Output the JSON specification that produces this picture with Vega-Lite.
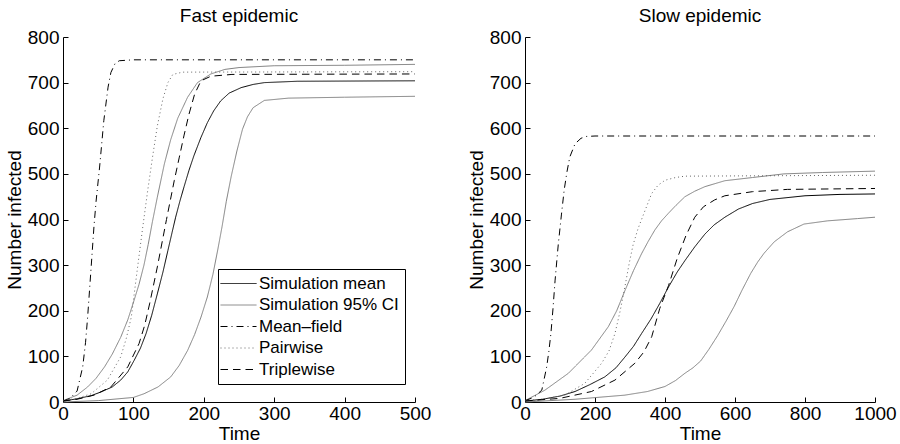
{
  "$schema": "https://vega.github.io/schema/vega-lite/v6.json",
  "background": "white",
  "padding": {"left": 5, "top": 7, "right": 5, "bottom": 0},
  "config": {
    "font": "Liberation Sans",
    "view": {"stroke": null},
    "axis": {
      "domainColor": "black", "tickColor": "black", "labelColor": "black", "titleColor": "black",
      "labelFont": "Liberation Sans", "titleFont": "Liberation Sans",
      "labelFontSize": 19, "titleFontSize": 19, "titleFontWeight": "normal",
      "grid": false, "tickSize": -5, "labelFlush": false, "labelOverlap": false,
      "domainWidth": 1, "tickWidth": 1, "format": "d"
    },
    "axisX": {"labelPadding": 7, "titlePadding": 1},
    "axisY": {"labelPadding": 9, "titlePadding": 3},
    "title": {"fontSize": 19, "fontWeight": "normal", "font": "Liberation Sans", "color": "black", "offset": 2},
    "concat": {"spacing": 36}
  },
  "datasets": {
    "fast": [
      {"t":0,"v":2,"s":"Simulation mean","c":"m"},{"t":20,"v":7,"s":"Simulation mean","c":"m"},{"t":40,"v":14,"s":"Simulation mean","c":"m"},{"t":54,"v":22,"s":"Simulation mean","c":"m"},{"t":70,"v":33,"s":"Simulation mean","c":"m"},{"t":82,"v":48,"s":"Simulation mean","c":"m"},{"t":92,"v":66,"s":"Simulation mean","c":"m"},{"t":101,"v":91,"s":"Simulation mean","c":"m"},{"t":110,"v":118,"s":"Simulation mean","c":"m"},{"t":118,"v":150,"s":"Simulation mean","c":"m"},{"t":126,"v":190,"s":"Simulation mean","c":"m"},{"t":134,"v":237,"s":"Simulation mean","c":"m"},{"t":142,"v":285,"s":"Simulation mean","c":"m"},{"t":149,"v":332,"s":"Simulation mean","c":"m"},{"t":155,"v":372,"s":"Simulation mean","c":"m"},{"t":160,"v":405,"s":"Simulation mean","c":"m"},{"t":166,"v":440,"s":"Simulation mean","c":"m"},{"t":172,"v":472,"s":"Simulation mean","c":"m"},{"t":179,"v":508,"s":"Simulation mean","c":"m"},{"t":186,"v":540,"s":"Simulation mean","c":"m"},{"t":196,"v":580,"s":"Simulation mean","c":"m"},{"t":205,"v":612,"s":"Simulation mean","c":"m"},{"t":214,"v":638,"s":"Simulation mean","c":"m"},{"t":224,"v":660,"s":"Simulation mean","c":"m"},{"t":236,"v":677,"s":"Simulation mean","c":"m"},{"t":253,"v":689,"s":"Simulation mean","c":"m"},{"t":270,"v":696,"s":"Simulation mean","c":"m"},{"t":286,"v":700,"s":"Simulation mean","c":"m"},{"t":333,"v":703,"s":"Simulation mean","c":"m"},{"t":500,"v":704,"s":"Simulation mean","c":"m"},
      {"t":0,"v":3,"s":"Simulation 95% CI","c":"u"},{"t":20,"v":15,"s":"Simulation 95% CI","c":"u"},{"t":35,"v":33,"s":"Simulation 95% CI","c":"u"},{"t":47,"v":52,"s":"Simulation 95% CI","c":"u"},{"t":59,"v":77,"s":"Simulation 95% CI","c":"u"},{"t":70,"v":105,"s":"Simulation 95% CI","c":"u"},{"t":82,"v":142,"s":"Simulation 95% CI","c":"u"},{"t":92,"v":180,"s":"Simulation 95% CI","c":"u"},{"t":101,"v":223,"s":"Simulation 95% CI","c":"u"},{"t":108,"v":258,"s":"Simulation 95% CI","c":"u"},{"t":115,"v":300,"s":"Simulation 95% CI","c":"u"},{"t":121,"v":345,"s":"Simulation 95% CI","c":"u"},{"t":127,"v":395,"s":"Simulation 95% CI","c":"u"},{"t":134,"v":449,"s":"Simulation 95% CI","c":"u"},{"t":144,"v":522,"s":"Simulation 95% CI","c":"u"},{"t":153,"v":575,"s":"Simulation 95% CI","c":"u"},{"t":163,"v":622,"s":"Simulation 95% CI","c":"u"},{"t":177,"v":668,"s":"Simulation 95% CI","c":"u"},{"t":191,"v":700,"s":"Simulation 95% CI","c":"u"},{"t":210,"v":719,"s":"Simulation 95% CI","c":"u"},{"t":230,"v":729,"s":"Simulation 95% CI","c":"u"},{"t":250,"v":733,"s":"Simulation 95% CI","c":"u"},{"t":300,"v":737,"s":"Simulation 95% CI","c":"u"},{"t":400,"v":738,"s":"Simulation 95% CI","c":"u"},{"t":500,"v":740,"s":"Simulation 95% CI","c":"u"},
      {"t":0,"v":0,"s":"Simulation 95% CI","c":"l"},{"t":50,"v":3,"s":"Simulation 95% CI","c":"l"},{"t":100,"v":10,"s":"Simulation 95% CI","c":"l"},{"t":115,"v":18,"s":"Simulation 95% CI","c":"l"},{"t":135,"v":33,"s":"Simulation 95% CI","c":"l"},{"t":153,"v":55,"s":"Simulation 95% CI","c":"l"},{"t":165,"v":80,"s":"Simulation 95% CI","c":"l"},{"t":177,"v":113,"s":"Simulation 95% CI","c":"l"},{"t":187,"v":148,"s":"Simulation 95% CI","c":"l"},{"t":196,"v":186,"s":"Simulation 95% CI","c":"l"},{"t":205,"v":230,"s":"Simulation 95% CI","c":"l"},{"t":213,"v":280,"s":"Simulation 95% CI","c":"l"},{"t":220,"v":335,"s":"Simulation 95% CI","c":"l"},{"t":226,"v":385,"s":"Simulation 95% CI","c":"l"},{"t":232,"v":440,"s":"Simulation 95% CI","c":"l"},{"t":239,"v":495,"s":"Simulation 95% CI","c":"l"},{"t":247,"v":550,"s":"Simulation 95% CI","c":"l"},{"t":255,"v":598,"s":"Simulation 95% CI","c":"l"},{"t":262,"v":625,"s":"Simulation 95% CI","c":"l"},{"t":270,"v":645,"s":"Simulation 95% CI","c":"l"},{"t":286,"v":661,"s":"Simulation 95% CI","c":"l"},{"t":320,"v":666,"s":"Simulation 95% CI","c":"l"},{"t":400,"v":668,"s":"Simulation 95% CI","c":"l"},{"t":500,"v":670,"s":"Simulation 95% CI","c":"l"},
      {"t":0,"v":2,"s":"Mean\u2013field","c":"mf"},{"t":10,"v":8,"s":"Mean\u2013field","c":"mf"},{"t":20,"v":24,"s":"Mean\u2013field","c":"mf"},{"t":28,"v":77,"s":"Mean\u2013field","c":"mf"},{"t":32,"v":130,"s":"Mean\u2013field","c":"mf"},{"t":35,"v":186,"s":"Mean\u2013field","c":"mf"},{"t":40,"v":296,"s":"Mean\u2013field","c":"mf"},{"t":44,"v":385,"s":"Mean\u2013field","c":"mf"},{"t":47,"v":440,"s":"Mean\u2013field","c":"mf"},{"t":52,"v":515,"s":"Mean\u2013field","c":"mf"},{"t":58,"v":617,"s":"Mean\u2013field","c":"mf"},{"t":64,"v":690,"s":"Mean\u2013field","c":"mf"},{"t":68,"v":722,"s":"Mean\u2013field","c":"mf"},{"t":74,"v":742,"s":"Mean\u2013field","c":"mf"},{"t":80,"v":748,"s":"Mean\u2013field","c":"mf"},{"t":100,"v":750,"s":"Mean\u2013field","c":"mf"},{"t":500,"v":750,"s":"Mean\u2013field","c":"mf"},
      {"t":0,"v":3,"s":"Pairwise","c":"p"},{"t":20,"v":8,"s":"Pairwise","c":"p"},{"t":40,"v":18,"s":"Pairwise","c":"p"},{"t":63,"v":48,"s":"Pairwise","c":"p"},{"t":82,"v":99,"s":"Pairwise","c":"p"},{"t":90,"v":140,"s":"Pairwise","c":"p"},{"t":97,"v":186,"s":"Pairwise","c":"p"},{"t":106,"v":296,"s":"Pairwise","c":"p"},{"t":113,"v":380,"s":"Pairwise","c":"p"},{"t":120,"v":460,"s":"Pairwise","c":"p"},{"t":127,"v":535,"s":"Pairwise","c":"p"},{"t":134,"v":605,"s":"Pairwise","c":"p"},{"t":142,"v":665,"s":"Pairwise","c":"p"},{"t":149,"v":700,"s":"Pairwise","c":"p"},{"t":156,"v":718,"s":"Pairwise","c":"p"},{"t":170,"v":723,"s":"Pairwise","c":"p"},{"t":500,"v":724,"s":"Pairwise","c":"p"},
      {"t":0,"v":2,"s":"Triplewise","c":"tw"},{"t":20,"v":6,"s":"Triplewise","c":"tw"},{"t":44,"v":15,"s":"Triplewise","c":"tw"},{"t":68,"v":33,"s":"Triplewise","c":"tw"},{"t":92,"v":77,"s":"Triplewise","c":"tw"},{"t":108,"v":128,"s":"Triplewise","c":"tw"},{"t":116,"v":168,"s":"Triplewise","c":"tw"},{"t":123,"v":215,"s":"Triplewise","c":"tw"},{"t":134,"v":296,"s":"Triplewise","c":"tw"},{"t":147,"v":400,"s":"Triplewise","c":"tw"},{"t":158,"v":485,"s":"Triplewise","c":"tw"},{"t":165,"v":535,"s":"Triplewise","c":"tw"},{"t":172,"v":585,"s":"Triplewise","c":"tw"},{"t":179,"v":631,"s":"Triplewise","c":"tw"},{"t":187,"v":675,"s":"Triplewise","c":"tw"},{"t":196,"v":704,"s":"Triplewise","c":"tw"},{"t":210,"v":714,"s":"Triplewise","c":"tw"},{"t":240,"v":718,"s":"Triplewise","c":"tw"},{"t":500,"v":719,"s":"Triplewise","c":"tw"}
    ],
    "slow": [
      {"t":0,"v":2,"s":"Simulation mean","c":"m"},{"t":50,"v":6,"s":"Simulation mean","c":"m"},{"t":100,"v":13,"s":"Simulation mean","c":"m"},{"t":143,"v":23,"s":"Simulation mean","c":"m"},{"t":185,"v":38,"s":"Simulation mean","c":"m"},{"t":228,"v":55,"s":"Simulation mean","c":"m"},{"t":260,"v":75,"s":"Simulation mean","c":"m"},{"t":286,"v":99,"s":"Simulation mean","c":"m"},{"t":310,"v":122,"s":"Simulation mean","c":"m"},{"t":333,"v":150,"s":"Simulation mean","c":"m"},{"t":360,"v":182,"s":"Simulation mean","c":"m"},{"t":385,"v":216,"s":"Simulation mean","c":"m"},{"t":410,"v":252,"s":"Simulation mean","c":"m"},{"t":435,"v":285,"s":"Simulation mean","c":"m"},{"t":457,"v":310,"s":"Simulation mean","c":"m"},{"t":485,"v":340,"s":"Simulation mean","c":"m"},{"t":514,"v":368,"s":"Simulation mean","c":"m"},{"t":540,"v":388,"s":"Simulation mean","c":"m"},{"t":571,"v":405,"s":"Simulation mean","c":"m"},{"t":610,"v":423,"s":"Simulation mean","c":"m"},{"t":650,"v":435,"s":"Simulation mean","c":"m"},{"t":700,"v":444,"s":"Simulation mean","c":"m"},{"t":800,"v":452,"s":"Simulation mean","c":"m"},{"t":900,"v":455,"s":"Simulation mean","c":"m"},{"t":1000,"v":456,"s":"Simulation mean","c":"m"},
      {"t":0,"v":3,"s":"Simulation 95% CI","c":"u"},{"t":57,"v":26,"s":"Simulation 95% CI","c":"u"},{"t":124,"v":63,"s":"Simulation 95% CI","c":"u"},{"t":190,"v":114,"s":"Simulation 95% CI","c":"u"},{"t":238,"v":165,"s":"Simulation 95% CI","c":"u"},{"t":262,"v":200,"s":"Simulation 95% CI","c":"u"},{"t":286,"v":245,"s":"Simulation 95% CI","c":"u"},{"t":310,"v":288,"s":"Simulation 95% CI","c":"u"},{"t":333,"v":325,"s":"Simulation 95% CI","c":"u"},{"t":352,"v":352,"s":"Simulation 95% CI","c":"u"},{"t":371,"v":377,"s":"Simulation 95% CI","c":"u"},{"t":390,"v":397,"s":"Simulation 95% CI","c":"u"},{"t":409,"v":413,"s":"Simulation 95% CI","c":"u"},{"t":430,"v":430,"s":"Simulation 95% CI","c":"u"},{"t":457,"v":450,"s":"Simulation 95% CI","c":"u"},{"t":485,"v":462,"s":"Simulation 95% CI","c":"u"},{"t":514,"v":472,"s":"Simulation 95% CI","c":"u"},{"t":571,"v":485,"s":"Simulation 95% CI","c":"u"},{"t":650,"v":492,"s":"Simulation 95% CI","c":"u"},{"t":740,"v":500,"s":"Simulation 95% CI","c":"u"},{"t":850,"v":503,"s":"Simulation 95% CI","c":"u"},{"t":1000,"v":506,"s":"Simulation 95% CI","c":"u"},
      {"t":0,"v":0,"s":"Simulation 95% CI","c":"l"},{"t":143,"v":6,"s":"Simulation 95% CI","c":"l"},{"t":285,"v":15,"s":"Simulation 95% CI","c":"l"},{"t":350,"v":23,"s":"Simulation 95% CI","c":"l"},{"t":400,"v":34,"s":"Simulation 95% CI","c":"l"},{"t":430,"v":47,"s":"Simulation 95% CI","c":"l"},{"t":457,"v":63,"s":"Simulation 95% CI","c":"l"},{"t":480,"v":75,"s":"Simulation 95% CI","c":"l"},{"t":502,"v":90,"s":"Simulation 95% CI","c":"l"},{"t":525,"v":115,"s":"Simulation 95% CI","c":"l"},{"t":550,"v":145,"s":"Simulation 95% CI","c":"l"},{"t":575,"v":178,"s":"Simulation 95% CI","c":"l"},{"t":598,"v":210,"s":"Simulation 95% CI","c":"l"},{"t":620,"v":245,"s":"Simulation 95% CI","c":"l"},{"t":645,"v":282,"s":"Simulation 95% CI","c":"l"},{"t":665,"v":307,"s":"Simulation 95% CI","c":"l"},{"t":683,"v":326,"s":"Simulation 95% CI","c":"l"},{"t":712,"v":351,"s":"Simulation 95% CI","c":"l"},{"t":750,"v":373,"s":"Simulation 95% CI","c":"l"},{"t":797,"v":390,"s":"Simulation 95% CI","c":"l"},{"t":864,"v":397,"s":"Simulation 95% CI","c":"l"},{"t":950,"v":402,"s":"Simulation 95% CI","c":"l"},{"t":1000,"v":405,"s":"Simulation 95% CI","c":"l"},
      {"t":0,"v":3,"s":"Mean\u2013field","c":"mf"},{"t":25,"v":10,"s":"Mean\u2013field","c":"mf"},{"t":48,"v":26,"s":"Mean\u2013field","c":"mf"},{"t":62,"v":77,"s":"Mean\u2013field","c":"mf"},{"t":68,"v":110,"s":"Mean\u2013field","c":"mf"},{"t":74,"v":150,"s":"Mean\u2013field","c":"mf"},{"t":80,"v":205,"s":"Mean\u2013field","c":"mf"},{"t":86,"v":267,"s":"Mean\u2013field","c":"mf"},{"t":95,"v":345,"s":"Mean\u2013field","c":"mf"},{"t":104,"v":410,"s":"Mean\u2013field","c":"mf"},{"t":112,"v":465,"s":"Mean\u2013field","c":"mf"},{"t":120,"v":505,"s":"Mean\u2013field","c":"mf"},{"t":128,"v":537,"s":"Mean\u2013field","c":"mf"},{"t":143,"v":566,"s":"Mean\u2013field","c":"mf"},{"t":160,"v":578,"s":"Mean\u2013field","c":"mf"},{"t":175,"v":582,"s":"Mean\u2013field","c":"mf"},{"t":200,"v":583,"s":"Mean\u2013field","c":"mf"},{"t":1000,"v":583,"s":"Mean\u2013field","c":"mf"},
      {"t":0,"v":3,"s":"Pairwise","c":"p"},{"t":50,"v":6,"s":"Pairwise","c":"p"},{"t":114,"v":15,"s":"Pairwise","c":"p"},{"t":171,"v":41,"s":"Pairwise","c":"p"},{"t":219,"v":85,"s":"Pairwise","c":"p"},{"t":240,"v":112,"s":"Pairwise","c":"p"},{"t":257,"v":150,"s":"Pairwise","c":"p"},{"t":272,"v":200,"s":"Pairwise","c":"p"},{"t":286,"v":255,"s":"Pairwise","c":"p"},{"t":298,"v":305,"s":"Pairwise","c":"p"},{"t":309,"v":345,"s":"Pairwise","c":"p"},{"t":323,"v":380,"s":"Pairwise","c":"p"},{"t":338,"v":410,"s":"Pairwise","c":"p"},{"t":362,"v":457,"s":"Pairwise","c":"p"},{"t":380,"v":475,"s":"Pairwise","c":"p"},{"t":400,"v":486,"s":"Pairwise","c":"p"},{"t":430,"v":492,"s":"Pairwise","c":"p"},{"t":457,"v":495,"s":"Pairwise","c":"p"},{"t":1000,"v":497,"s":"Pairwise","c":"p"},
      {"t":0,"v":2,"s":"Triplewise","c":"tw"},{"t":100,"v":8,"s":"Triplewise","c":"tw"},{"t":190,"v":23,"s":"Triplewise","c":"tw"},{"t":257,"v":48,"s":"Triplewise","c":"tw"},{"t":314,"v":85,"s":"Triplewise","c":"tw"},{"t":340,"v":110,"s":"Triplewise","c":"tw"},{"t":362,"v":143,"s":"Triplewise","c":"tw"},{"t":385,"v":205,"s":"Triplewise","c":"tw"},{"t":410,"v":255,"s":"Triplewise","c":"tw"},{"t":435,"v":315,"s":"Triplewise","c":"tw"},{"t":460,"v":365,"s":"Triplewise","c":"tw"},{"t":485,"v":405,"s":"Triplewise","c":"tw"},{"t":510,"v":428,"s":"Triplewise","c":"tw"},{"t":542,"v":443,"s":"Triplewise","c":"tw"},{"t":571,"v":452,"s":"Triplewise","c":"tw"},{"t":650,"v":461,"s":"Triplewise","c":"tw"},{"t":750,"v":466,"s":"Triplewise","c":"tw"},{"t":1000,"v":468,"s":"Triplewise","c":"tw"}
    ]
  },
  "resolve": {"legend": {"color": "independent", "strokeDash": "independent"}},
  "hconcat": [
    {
      "title": "Fast epidemic",
      "width": 352, "height": 365,
      "data": {"name": "fast"},
      "mark": {"type": "line", "strokeWidth": 1},
      "encoding": {
        "x": {"field": "t", "type": "quantitative", "scale": {"domain": [0, 500], "nice": false}, "axis": {"title": "Time", "values": [0, 100, 200, 300, 400, 500]}},
        "y": {"field": "v", "type": "quantitative", "scale": {"domain": [0, 800], "nice": false}, "axis": {"title": "Number infected", "values": [0, 100, 200, 300, 400, 500, 600, 700, 800]}},
        "color": {"field": "s", "type": "nominal",
          "scale": {"domain": ["Simulation mean", "Simulation 95% CI", "Mean\u2013field", "Pairwise", "Triplewise"], "range": ["#000000", "#808080", "#000000", "#666666", "#000000"]},
          "legend": {"orient": "none", "legendX": 155, "legendY": 232, "title": null, "labelFont": "Liberation Sans", "labelFontSize": 17, "labelColor": "black", "strokeColor": "black", "fillColor": "white", "padding": 6, "rowPadding": 3.5, "symbolType": "M-2,0H4", "symbolSize": 144, "symbolStrokeWidth": 1, "labelOffset": 18, "labelLimit": 400}},
        "strokeDash": {"field": "s", "type": "nominal",
          "scale": {"domain": ["Simulation mean", "Simulation 95% CI", "Mean\u2013field", "Pairwise", "Triplewise"], "range": [[1, 0], [1, 0], [7, 4, 1, 4], [1, 3], [7.5, 5]]},
          "legend": {"orient": "none", "legendX": 155, "legendY": 232, "title": null, "labelFont": "Liberation Sans", "labelFontSize": 17, "labelColor": "black", "strokeColor": "black", "fillColor": "white", "padding": 6, "rowPadding": 3.5, "symbolType": "M-2,0H4", "symbolSize": 144, "symbolStrokeWidth": 1, "labelOffset": 18, "labelLimit": 400}},
        "detail": {"field": "c", "type": "nominal"}
      }
    },
    {
      "title": "Slow epidemic",
      "width": 350, "height": 365,
      "data": {"name": "slow"},
      "mark": {"type": "line", "strokeWidth": 1},
      "encoding": {
        "x": {"field": "t", "type": "quantitative", "scale": {"domain": [0, 1000], "nice": false}, "axis": {"title": "Time", "values": [0, 200, 400, 600, 800, 1000]}},
        "y": {"field": "v", "type": "quantitative", "scale": {"domain": [0, 800], "nice": false}, "axis": {"title": "Number infected", "values": [0, 100, 200, 300, 400, 500, 600, 700, 800]}},
        "color": {"field": "s", "type": "nominal",
          "scale": {"domain": ["Simulation mean", "Simulation 95% CI", "Mean\u2013field", "Pairwise", "Triplewise"], "range": ["#000000", "#808080", "#000000", "#666666", "#000000"]},
          "legend": null},
        "strokeDash": {"field": "s", "type": "nominal",
          "scale": {"domain": ["Simulation mean", "Simulation 95% CI", "Mean\u2013field", "Pairwise", "Triplewise"], "range": [[1, 0], [1, 0], [7, 4, 1, 4], [1, 3], [7.5, 5]]},
          "legend": null},
        "detail": {"field": "c", "type": "nominal"}
      }
    }
  ]
}
